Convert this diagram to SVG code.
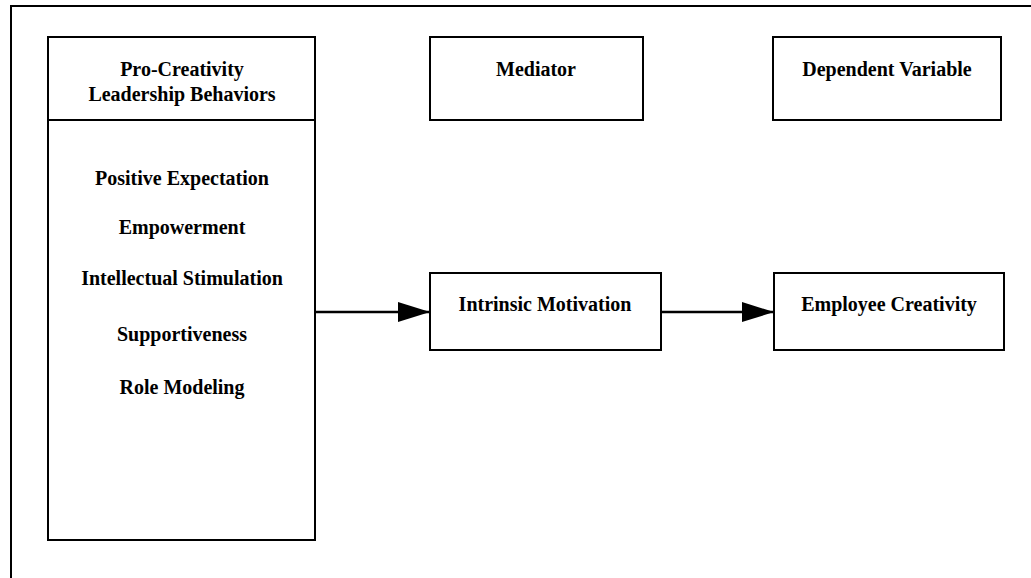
<svg xmlns="http://www.w3.org/2000/svg" width="1031" height="578" viewBox="0 0 1031 578">
<style>
.box{fill:#fff;stroke:#000;stroke-width:2}
.t{font-family:"Liberation Serif","Times New Roman",serif;font-weight:bold;font-size:20px;fill:#000;text-anchor:middle}
.c{stroke:#000;stroke-width:2.5;fill:none}
</style>
<defs>
<marker id="ah" markerWidth="32" markerHeight="20" refX="32" refY="10" orient="auto" markerUnits="userSpaceOnUse">
<path d="M0,0 L32,10 L0,20 Z" fill="#000"/>
</marker>
</defs>
<rect width="1031" height="578" fill="#fff"/>
<g id="frame"><path d="M11,578 V6 H1031" stroke="#000" stroke-width="2" fill="none"/></g>
<g id="leadership">
<rect class="box" x="48" y="37" width="267" height="503"/>
<line x1="48" y1="120" x2="315" y2="120" stroke="#000" stroke-width="2"/>
<text class="t" x="182" y="76">Pro-Creativity</text>
<text class="t" x="182" y="101">Leadership Behaviors</text>
<text class="t" x="182" y="185">Positive Expectation</text>
<text class="t" x="182" y="234">Empowerment</text>
<text class="t" x="182" y="285">Intellectual Stimulation</text>
<text class="t" x="182" y="341">Supportiveness</text>
<text class="t" x="182" y="394">Role Modeling</text>
</g>
<g id="mediator"><rect class="box" x="430" y="37" width="213" height="83"/><text class="t" x="536" y="76">Mediator</text></g>
<g id="dependent"><rect class="box" x="773" y="37" width="228" height="83"/><text class="t" x="887" y="76">Dependent Variable</text></g>
<g id="intrinsic"><rect class="box" x="430" y="273" width="231" height="77"/><text class="t" x="545" y="311">Intrinsic Motivation</text></g>
<g id="creativity"><rect class="box" x="774" y="273" width="230" height="77"/><text class="t" x="889" y="311">Employee Creativity</text></g>
<g id="connectors">
<line class="c" x1="315" y1="312" x2="430" y2="312" marker-end="url(#ah)"/>
<line class="c" x1="661" y1="312" x2="774" y2="312" marker-end="url(#ah)"/>
</g>
</svg>
